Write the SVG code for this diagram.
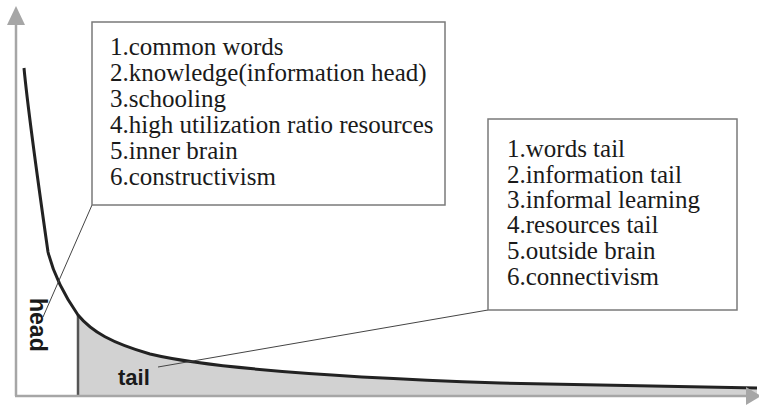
<svg xmlns="http://www.w3.org/2000/svg" width="759" height="406" viewBox="0 0 759 406">
  <style>
    .axis { stroke: #a6a6a6; stroke-width: 2.5; fill: none; }
    .arrowhead { fill: #a6a6a6; }
    .curve { stroke: #222; stroke-width: 3; fill: none; }
    .shade { fill: #d2d2d2; }
    .divider { stroke: #555; stroke-width: 2.5; }
    .box { fill: #fff; stroke: #7a7a7a; stroke-width: 1.5; }
    .list { font-family: "Liberation Serif", "Times New Roman", serif; font-size: 25px; fill: #1a1a1a; }
    .lbl { font-family: "Liberation Sans", Arial, sans-serif; font-weight: bold; fill: #1a1a1a; }
    .callout { stroke: #444; stroke-width: 1; fill: none; }
  </style>

  <g id="chart">
    <path class="shade" d="M78,395 L78,315 C92,332 112,343 150,354 C200,366 300,376 500,383 L757,388 L757,395 Z"/>
    <line class="divider" x1="78" y1="315" x2="78" y2="395"/>
    <path class="curve" d="M24,68 C27,100 42,210 48,252 C53,272 62,292 78,315 C92,332 112,343 150,354 C200,366 300,376 500,383 L757,388"/>
  </g>

  <g id="axes">
    <line class="axis" x1="16" y1="24" x2="16" y2="396"/>
    <polygon class="arrowhead" points="16,6 7,25 25,25"/>
    <line class="axis" x1="15" y1="396" x2="748" y2="396"/>
    <polygon class="arrowhead" points="761,396 746,387 746,405"/>
  </g>

  <g id="connectors">
    <line class="callout" x1="92" y1="205" x2="43" y2="317"/>
    <line class="callout" x1="488" y1="310" x2="158" y2="367"/>
  </g>

  <g id="head-label">
    <text class="lbl" font-size="23" transform="translate(30,298) rotate(90)">head</text>
  </g>

  <g id="tail-label">
    <text class="lbl" font-size="22" x="118" y="385">tail</text>
  </g>

  <g id="head-box">
    <rect class="box" x="92" y="22" width="353" height="183"/>
    <text class="list" x="110" y="55">1.common words</text>
    <text class="list" x="110" y="81">2.knowledge(information head)</text>
    <text class="list" x="110" y="107">3.schooling</text>
    <text class="list" x="110" y="133">4.high utilization ratio resources</text>
    <text class="list" x="110" y="159">5.inner brain</text>
    <text class="list" x="110" y="185">6.constructivism</text>
  </g>

  <g id="tail-box">
    <rect class="box" x="488" y="119" width="249" height="191"/>
    <text class="list" x="507" y="157">1.words tail</text>
    <text class="list" x="507" y="183">2.information tail</text>
    <text class="list" x="507" y="208">3.informal learning</text>
    <text class="list" x="507" y="233">4.resources tail</text>
    <text class="list" x="507" y="259">5.outside brain</text>
    <text class="list" x="507" y="285">6.connectivism</text>
  </g>
</svg>
